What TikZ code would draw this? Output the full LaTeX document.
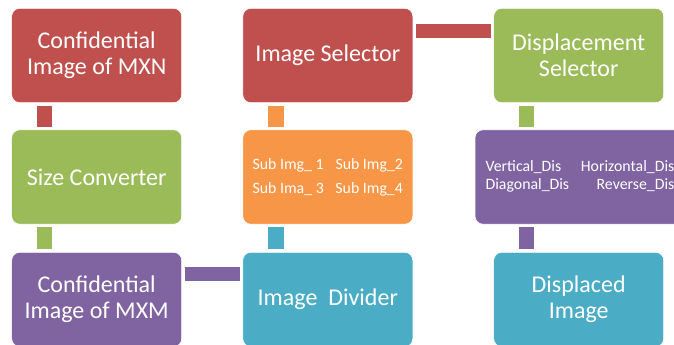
\documentclass[tikz,border=0pt]{standalone}
\usepackage{fontspec}
\setmainfont{Carlito}
\definecolor{boxred}{HTML}{C0504D}
\definecolor{boxgreen}{HTML}{9BBB59}
\definecolor{boxpurple}{HTML}{8064A2}
\definecolor{boxorange}{HTML}{F79646}
\definecolor{boxteal}{HTML}{4BACC6}

\begin{document}
\begin{tikzpicture}[x=0.3mm,y=-0.3mm,
  block/.style={rectangle,rounded corners=2.4mm,minimum width=51mm,minimum height=28.3mm,
    inner sep=0pt,text=white,align=center,draw=white,line width=0.5pt,
    font=\fontsize{20.5}{22.2}\selectfont},
  small/.style={font=\fontsize{13.5}{20.5}\selectfont},
  bar/.style={line width=4.6mm,shorten <=0.8mm,shorten >=0.8mm},
  hbar/.style={bar,line width=4.3mm}]
\clip (0,0) rectangle (674,345);
\useasboundingbox (0,0) rectangle (674,345);

% top row
\node[block,fill=boxred] (conf) at (96.7,55.5) {Confidential\\Image of MXN};
\node[block,fill=boxred] (isel) at (327.8,55.5) {Image Selector};
\node[block,fill=boxgreen] (dsel) at (578.7,55.5) {Displacement\\Selector};

% middle row
\node[block,fill=boxgreen] (size) at (96.7,177) {Size Converter};
\node[block,fill=boxorange,small] (sub) at (327.8,177)
  {\begin{tabular}{@{}l@{\hspace{10pt}}l@{}}Sub Img\_ 1 & Sub Img\_2\\ Sub Ima\_ 3 & Sub Img\_4\end{tabular}};
\node[block,fill=boxpurple,minimum width=63mm,font=\fontsize{13.5}{15.5}\selectfont] (dis) at (580,177)
  {\begin{tabular}{@{}l@{\hspace{10pt}}r@{}}Vertical\_Dis & Horizontal\_Dis\\ Diagonal\_Dis & Reverse\_Dis\end{tabular}};

% bottom row
\node[block,fill=boxpurple] (confm) at (96.7,299.5) {Confidential\\Image of MXM};
\node[block,fill=boxteal] (idiv) at (327.8,299.5) {Image\ \ Divider};
\node[block,fill=boxteal] (disp) at (578.7,299.5) {Displaced\\Image};

% connectors
\draw[bar,boxred] ([xshift=10mm]conf.south west) -- ([xshift=10mm]conf.south west |- size.north);
\draw[bar,boxorange] ([xshift=10mm]isel.south west) -- ([xshift=10mm]isel.south west |- sub.north);
\draw[bar,boxgreen] ([xshift=10mm]dsel.south west) -- ([xshift=10mm]dsel.south west |- dis.north);
\draw[bar,boxgreen] ([xshift=10mm]size.south west) -- ([xshift=10mm]size.south west |- confm.north);
\draw[bar,boxteal] ([xshift=10mm]sub.south west) -- ([xshift=10mm]sub.south west |- idiv.north);
\draw[bar,boxpurple] ([xshift=10mm]disp.north west |- dis.south) -- ([xshift=10mm]disp.north west);
\draw[hbar,boxred] ([yshift=-6.9mm]isel.north east) -- ([yshift=-6.9mm]dsel.north west);
\draw[hbar,boxpurple] ([yshift=-6.65mm]confm.north east) -- ([yshift=-6.65mm]idiv.north west);
\end{tikzpicture}
\end{document}
